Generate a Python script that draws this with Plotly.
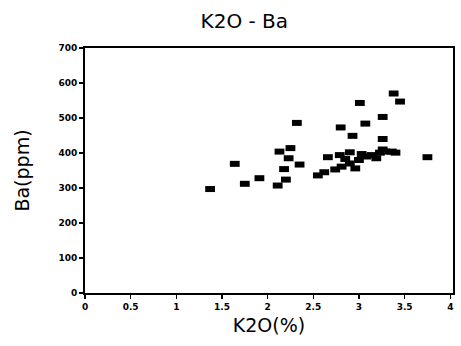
import plotly.graph_objects as go

k2o = [1.37, 1.64, 1.75, 1.91, 2.11, 2.20, 2.18, 2.13, 2.25, 2.23, 2.35, 2.32,
       2.55, 2.62, 2.66, 2.74, 2.81, 2.79, 2.90, 2.90, 2.96, 3.03, 3.08, 3.14,
       3.19, 3.23, 3.29, 3.36, 3.40, 3.26, 3.01, 3.38, 3.45, 3.26, 3.07, 2.80,
       2.93, 3.26, 3.75, 2.85, 3.00]
ba = [297, 369, 312, 328, 307, 324, 354, 404, 414, 385, 367, 486,
      336, 345, 388, 353, 361, 394, 402, 370, 356, 397, 390, 394,
      385, 401, 404, 404, 401, 410, 543, 570, 547, 503, 484, 473,
      449, 440, 388, 383, 380]

x_ticks = [0, 0.5, 1, 1.5, 2, 2.5, 3, 3.5, 4]
x_tick_text = ["0", "0.5", "1", "1.5", "2", "2.5", "3", "3.5", "4"]
y_ticks = [0, 100, 200, 300, 400, 500, 600, 700]

fig = go.Figure()
fig.add_trace(go.Scatter(
    x=k2o, y=ba, mode="markers",
    marker=dict(symbol="line-ew", size=7, color="black",
                line=dict(color="black", width=6)),
    showlegend=False,
))

tickfont = dict(family="DejaVu Sans", size=9, color="black", weight="bold")
titlefont = dict(family="DejaVu Sans", size=19, color="black")

fig.update_layout(
    width=461, height=346,
    margin=dict(l=85, r=8, t=48, b=53, autoexpand=False),
    paper_bgcolor="white", plot_bgcolor="white",
    title=dict(text="K2O - Ba", x=0.53, xanchor="center", y=0.94, yanchor="middle",
               font=dict(family="DejaVu Sans", size=20, color="black")),
    xaxis=dict(range=[0, 4.03], tickvals=x_ticks, ticktext=x_tick_text,
               ticks="outside", ticklen=4, tickwidth=1.5, tickcolor="black",
               showline=True, linecolor="black", linewidth=2, mirror=True,
               showgrid=False, zeroline=False, tickfont=tickfont,
               ticklabeloverflow="allow", automargin=False,
               title=dict(text="K2O(%)", font=titlefont, standoff=8)),
    yaxis=dict(range=[0, 700], tickvals=y_ticks,
               ticks="outside", ticklen=4, tickwidth=1.5, tickcolor="black",
               showline=True, linecolor="black", linewidth=2, mirror=True,
               showgrid=False, zeroline=False, tickfont=tickfont,
               automargin=False,
               title=dict(text="Ba(ppm)", font=titlefont, standoff=24)),
)

fig.write_html("out.html", config={"displayModeBar": False, "staticPlot": True})

# remove the browser's default body margin so the 461x346 figure fills the window
with open("out.html", "r", encoding="utf-8") as f:
    html = f.read()
html = html.replace("<head>", "<head><style>html,body{margin:0;padding:0;overflow:hidden;}</style>", 1)
with open("out.html", "w", encoding="utf-8") as f:
    f.write(html)
